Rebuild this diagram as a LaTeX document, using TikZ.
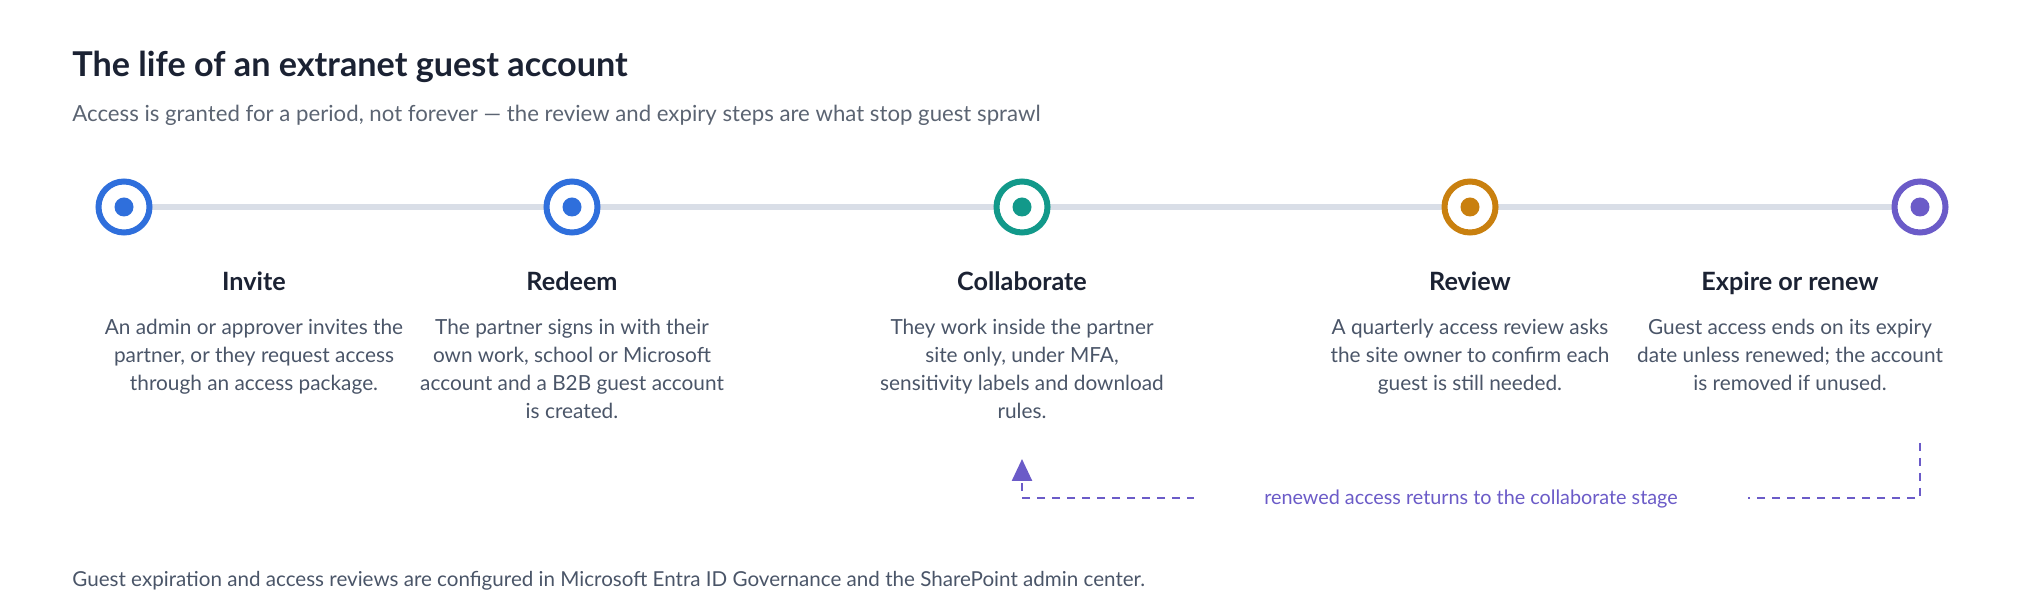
\documentclass[tikz,border=0pt]{standalone}
\usepackage{fontspec}
\setmainfont{Lato}
\usetikzlibrary{arrows.meta}
\definecolor{ink}{HTML}{1B2233}
\definecolor{sub}{HTML}{5B6472}
\definecolor{desc}{HTML}{4A5568}
\definecolor{rail}{HTML}{D9DEE7}
\definecolor{cblue}{HTML}{2F6FDC}
\definecolor{cteal}{HTML}{12998A}
\definecolor{corange}{HTML}{C9800F}
\definecolor{cpurple}{HTML}{6B5BC8}
\begin{document}
\begin{tikzpicture}[x=0.5pt,y=-0.5pt,
  ring/.style={circle,draw=#1,line width=3pt,fill=white,minimum size=25.5pt,inner sep=0pt},
  dot/.style={circle,fill=#1,minimum size=9.5pt,inner sep=0pt},
  steptitle/.style={font=\fontsize{12.6}{15}\selectfont\bfseries,text=ink,anchor=base,inner sep=0pt},
  stepdesc/.style={font=\fontsize{10.4}{14}\selectfont,text=desc,align=center,anchor=north,inner sep=0pt},
  loopline/.style={draw=cpurple,line width=1.25pt,dash pattern=on 4pt off 3.5pt},
]
\useasboundingbox (0,0) rectangle (2044,613);
\node[anchor=base west,inner sep=0pt,font=\fontsize{17.1}{20}\selectfont\bfseries,text=ink] (title) at (72,77) {The life of an extranet guest account};
\node[anchor=base west,inner sep=0pt,font=\fontsize{11.1}{13}\selectfont,text=sub] (subtitle) at (72,122) {Access is granted for a period, not forever — the review and expiry steps are what stop guest sprawl};

\coordinate (p1) at (124,207);
\coordinate (p2) at (572,207);
\coordinate (p3) at (1022,207);
\coordinate (p4) at (1470,207);
\coordinate (p5) at (1920,207);
\draw[rail,line width=3pt] (p1) -- (p5);

\node[ring=cblue] (c1) at (p1) {}; \node[dot=cblue] at (c1) {};
\node[ring=cblue] (c2) at (p2) {}; \node[dot=cblue] at (c2) {};
\node[ring=cteal] (c3) at (p3) {}; \node[dot=cteal] at (c3) {};
\node[ring=corange] (c4) at (p4) {}; \node[dot=corange] at (c4) {};
\node[ring=cpurple] (c5) at (p5) {}; \node[dot=cpurple] at (c5) {};

\node[steptitle] (t1) at (254,291) {Invite};
\node[steptitle] (t2) at (572,291) {Redeem};
\node[steptitle] (t3) at (1022,291) {Collaborate};
\node[steptitle] (t4) at (1470,291) {Review};
\node[steptitle] (t5) at (1790,291) {Expire or renew};

\node[stepdesc] (d1) at (254,319) {An admin or approver invites the\\partner, or they request access\\through an access package.};
\node[stepdesc] (d2) at (572,319) {The partner signs in with their\\own work, school or Microsoft\\account and a B2B guest account\\is created.};
\node[stepdesc] (d3) at (1022,319) {They work inside the partner\\site only, under MFA,\\sensitivity labels and download\\rules.};
\node[stepdesc] (d4) at (1470,319) {A quarterly access review asks\\the site owner to confirm each\\guest is still needed.};
\node[stepdesc] (d5) at (1790,319) {Guest access ends on its expiry\\date unless renewed; the account\\is removed if unused.};

\coordinate (rs) at (1920,443);
\coordinate (rc) at (1920,498);
\coordinate (lc) at (1022,498);
\coordinate (le) at (1022,459);
\draw[loopline,-{Triangle[width=10pt,length=11pt]}] (rs) -- (rc) -- (lc) -- (le);
\node[fill=white,inner xsep=35pt,inner ysep=4pt,font=\fontsize{9.9}{12}\selectfont,text=cpurple] (lab) at (1471,499) {renewed access returns to the collaborate stage};

\node[anchor=base west,inner sep=0pt,font=\fontsize{10.3}{13}\selectfont,text=desc] (foot) at (72,587) {Guest expiration and access reviews are configured in Microsoft Entra ID Governance and the SharePoint admin center.};
\end{tikzpicture}
\end{document}
